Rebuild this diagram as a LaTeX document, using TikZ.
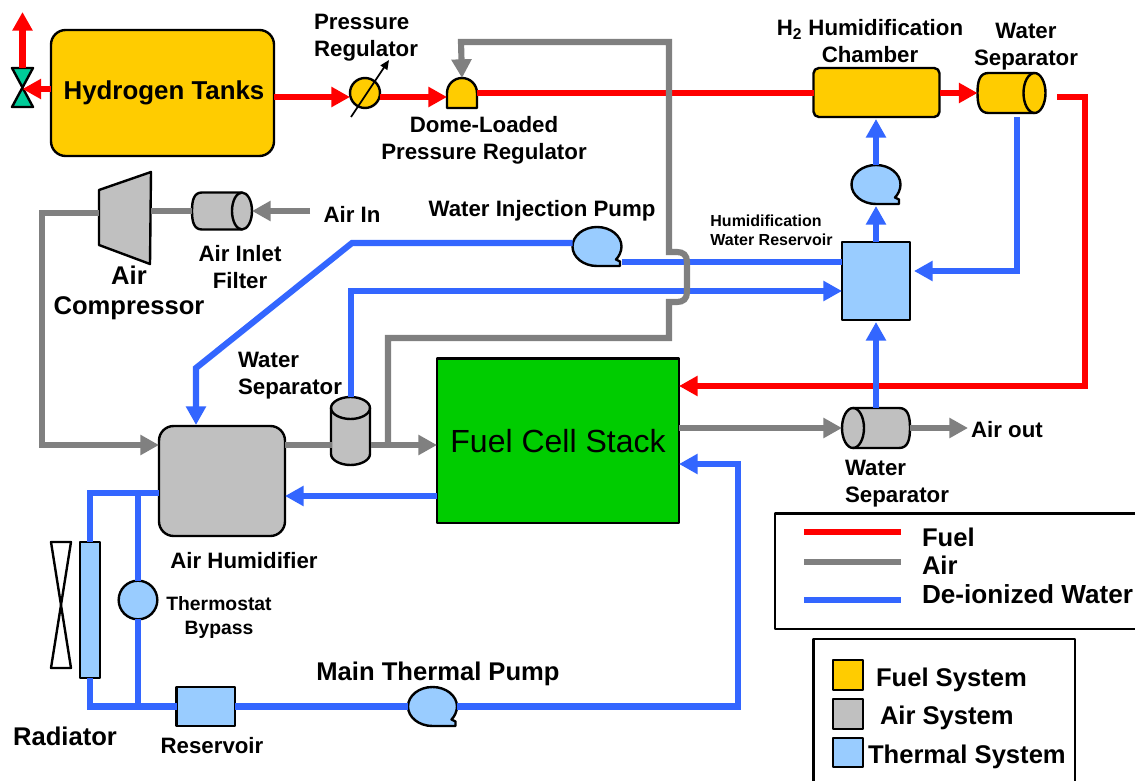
\documentclass[tikz,border=0pt]{standalone}
\usepackage{fontspec}
\setmainfont{Liberation Sans}
\usetikzlibrary{arrows.meta,calc}
\definecolor{fuelc}{HTML}{FF0000}
\definecolor{airc}{HTML}{808080}
\definecolor{waterc}{HTML}{3366FF}
\definecolor{fuelsys}{HTML}{FFCC00}
\definecolor{airsys}{HTML}{C0C0C0}
\definecolor{thermsys}{HTML}{99CCFF}
\definecolor{stackc}{HTML}{00CC00}
\definecolor{valvec}{HTML}{00CC99}
\tikzset{
  x=0.75pt,y=-0.75pt,
  outl/.style={draw=black,line width=1.8pt,line join=round},
  anode/.style={outl,inner sep=0pt,outer sep=0pt},
  fuelline/.style={draw=fuelc,line width=4.6pt},
  airline/.style={draw=airc,line width=4.6pt},
  waterline/.style={draw=waterc,line width=4.6pt},
  headed/.style={-{Triangle[length=14pt,width=14.5pt]}},
  ghost/.style={inner sep=0pt,outer sep=0pt},
  tl/.style={inner sep=0pt,outer sep=0pt,align=center,font=\bfseries\fontsize{16.7pt}{20.2pt}\selectfont},
  tlb/.style={tl,font=\bfseries\fontsize{19.2pt}{23pt}\selectfont},
  tls/.style={tl,font=\bfseries\fontsize{14.5pt}{18pt}\selectfont},
  tlx/.style={tl,font=\bfseries\fontsize{12pt}{14.2pt}\selectfont},
}
% box by corners
\newcommand\bx[6]{\node[anode,#2,minimum width={(#5-#3)*0.75pt},minimum height={(#6-#4)*0.75pt}] (#1) at ({(#3+#5)/2},{(#4+#6)/2}) {};}
% pump
\newcommand\pumpsym[3]{\node[ghost,minimum width=36.75pt,minimum height=29.25pt] (#1) at (#2,#3) {};
 \begin{scope}[shift={(#1.center)}]
 \draw[outl,fill=thermsys] (0,19.5) .. controls (-13.5,19.5) and (-24.5,10.8) .. (-24.5,0) .. controls (-24.5,-10.8) and (-13.5,-19.5) .. (0,-19.5) .. controls (13.5,-19.5) and (24.5,-10.8) .. (24.5,0) .. controls (24.5,5) and (22,10) .. (19,13) -- (23,15) -- (23,19.5) -- cycle;
 \end{scope}}
% horizontal cylinder: name cx cy halfw halfh rx colour xscale
\newcommand\cylh[8]{\node[ghost,minimum width={2*#4*0.75pt},minimum height={2*#5*0.75pt}] (#1) at (#2,#3) {};
 \begin{scope}[shift={(#1.center)},xscale=#8]
 \draw[outl,fill=#7] ({#4-#6},{-#5}) -- ({-#4+#6},{-#5}) .. controls ({-#4+0.2*#6},{-#5}) and ({-#4},{-0.6*#5}) .. ({-#4},0) .. controls ({-#4},{0.6*#5}) and ({-#4+0.2*#6},{#5}) .. ({-#4+#6},{#5}) -- ({#4-#6},{#5}) .. controls ({#4-0.45*#6},{#5}) and ({#4},{0.55*#5}) .. ({#4},0) .. controls ({#4},{-0.55*#5}) and ({#4-0.45*#6},{-#5}) .. ({#4-#6},{-#5}) -- cycle;
 \draw[outl] ({#4-#6},{-#5}) .. controls ({#4-1.55*#6},{-#5}) and ({#4-2*#6},{-0.55*#5}) .. ({#4-2*#6},0) .. controls ({#4-2*#6},{0.55*#5}) and ({#4-1.55*#6},{#5}) .. ({#4-#6},{#5});
 \end{scope}}
\begin{document}
\begin{tikzpicture}
\useasboundingbox (0,0) rectangle (1135,781);
\clip (0,0) rectangle (1135,781);
% --- components
\bx{tanks}{fill=fuelsys,rounded corners=11pt}{51}{30}{274}{156}
\bx{chamber}{fill=fuelsys,rounded corners=4pt}{813.5}{68}{939.5}{117}
\bx{hum}{fill=airsys,rounded corners=11pt}{159}{426}{285}{536}
\bx{stack}{fill=stackc}{437}{358.5}{679}{523}
\bx{hres}{fill=thermsys}{842}{242}{910}{320}
\bx{rad}{fill=thermsys}{80}{542}{100}{678}
\bx{res}{fill=thermsys}{176.5}{687}{235}{726}
% valve
\node[ghost,minimum width=15.75pt,minimum height=29.25pt] (valve) at (22.5,87.5) {};
\draw[outl,fill=valvec] (valve.north west) -- (valve.north east) -- (valve.center) -- cycle;
\draw[outl,fill=valvec] (valve.south west) -- (valve.south east) -- (valve.center) -- cycle;
% fan
\node[ghost,minimum width=15pt,minimum height=94.5pt] (fan) at (61,605) {};
\draw[outl,fill=white] (fan.north west) -- (fan.north east) -- (fan.center) -- cycle;
\draw[outl,fill=white] (fan.south west) -- (fan.south east) -- (fan.center) -- cycle;
% regulator
\node[anode,circle,fill=fuelsys,minimum size=22.5pt] (reg) at (365,93) {};
% dome
\node[ghost,minimum width=22.5pt,minimum height=22.5pt] (dome) at (462,93) {};
\draw[outl,fill=fuelsys] (dome.south west) -- (dome.west) .. controls ($(dome.west)+(0,-8.3)$) and ($(dome.north)+(-8.3,0)$) .. (dome.north) .. controls ($(dome.north)+(8.3,0)$) and ($(dome.east)+(0,-8.3)$) .. (dome.east) -- (dome.south east) -- cycle;
% compressor
\node[ghost,minimum width=39pt,minimum height=69pt] (comp) at (125,218) {};
\draw[outl,fill=airsys] (99,190) -- (151,172) -- (150,264) -- (99,245) -- cycle;
% cylinders
\cylh{filt}{222}{211}{30}{18.5}{10}{airsys}{1}
\cylh{sepa}{1011.5}{93}{34}{20}{11}{fuelsys}{1}
\cylh{sepb}{876}{428}{34}{20}{11}{airsys}{-1}
% vertical cylinder
\node[ghost,minimum width=29.25pt,minimum height=51pt] (sepc) at (351,431) {};
\draw[outl,fill=airsys] (331,408) -- (331,454) .. controls (331,460) and (340,465) .. (350.5,465) .. controls (361,465) and (370,460) .. (370,454) -- (370,408) .. controls (370,402) and (361,397) .. (350.5,397) .. controls (340,397) and (331,402) .. (331,408) -- cycle;
\draw[outl] (331,408) .. controls (331,414) and (340,419) .. (350.5,419) .. controls (361,419) and (370,414) .. (370,408);
% pumps
\pumpsym{pinj}{597}{246.5}
\pumpsym{phum}{876}{184.5}
\pumpsym{pmain}{432.5}{706.5}
\node[anode,circle,fill=thermsys,minimum size=29pt] (thermo) at (138,600) {};
% --- free ends
\coordinate (airinS) at (310,211);
\coordinate (sepaR) at (1057,97);
\coordinate (sepaB) at (1017,117);
\coordinate (hresR) at (914,271);
\coordinate (hresT) at (876,206);
\coordinate (chamB) at (876,119);
\coordinate (hresB) at (876,322);
\coordinate (airoutE) at (968,428);
\coordinate (regA) at (351,117);
\coordinate (regB) at (389,60);
\coordinate (ventT) at (22.5,12);
% --- fuel
\draw[fuelline,headed] (valve.north) -- (ventT);
\draw[fuelline,headed] (tanks.west |- 0,89) -- (valve.center |- 0,89);
\draw[fuelline,headed] (tanks.east |- 0,97) -- (reg.west |- 0,97);
\draw[fuelline,headed] (reg.east |- 0,97) -- (dome.west |- 0,97);
\draw[fuelline] (dome.east |- 0,93) -- (chamber.west |- 0,93);
\draw[fuelline,headed] (chamber.east |- 0,93) -- (sepa.west |- 0,93);
\draw[fuelline,headed] (sepaR) -- (1085,97) -- (1085,386) -- (stack.east |- 0,386);
% --- water
\draw[waterline,headed] (pinj.west |- 0,243) -- (352,243) -- (196,368) -- (196,425);
\draw[waterline] (pinj.east |- 0,262) -- (hres.west |- 0,262);
\draw[waterline,headed] (sepc.north) -- (351,291) -- (hres.west |- 0,291);
\draw[waterline,headed] (sepaB) -- (1017,271) -- (hresR);
\draw[waterline,headed] (hres.north) -- (hresT);
\draw[waterline,headed] (phum.north) -- (chamB);
\draw[waterline,headed] (sepb.north) -- (hresB);
\draw[waterline,headed] (stack.west |- 0,496) -- (hum.east |- 0,496);
\draw[waterline] (hum.west |- 0,493) -- (90,493) -- (rad.north);
\draw[waterline] (138,493) -- (thermo.north);
\draw[waterline] (thermo.south) -- (138,706.5);
\draw[waterline] (rad.south) -- (90,706.5) -- (res.west);
\draw[waterline] (res.east) -- (pmain.west);
\draw[waterline,headed] (pmain.east) -- (738,706.5) -- (738,464) -- (stack.east |- 0,464);
% --- air
\draw[airline,headed] (airinS) -- (filt.east);
\draw[airline] (filt.west) -- (151,211);
\draw[airline,headed] (99,213) -- (42,213) -- (42,445) -- (hum.west |- 0,445);
\draw[airline] (hum.east |- 0,445) -- (sepc.west |- 0,445);
\draw[airline,headed] (sepc.east |- 0,445) -- (stack.west |- 0,445);
\draw[airline,headed] (stack.east |- 0,428) -- (sepb.west);
\draw[airline,headed] (sepb.east) -- (airoutE);
\draw[airline,headed] (388,445) -- (388,338) -- (669,338) -- (669,302) -- (677,302) .. controls (683,302) and (687,299) .. (687,292) -- (687,262) .. controls (687,255) and (683,252) .. (677,252) -- (669,252) -- (669,42) -- (461,42) -- (dome.north);
% regulator stroke
\draw[black,line width=1.3pt,-{Triangle[length=7pt,width=6pt]}] (regA) -- (regB);
% --- labels
\node[tlb,font=\bfseries\fontsize{19.4pt}{23pt}\selectfont] (tHyd) at (164,92.5) {Hydrogen Tanks};
\node[tl,align=left] (tPR) at (366,38) {Pressure\\Regulator};
\node[tl] (tDome) at (484,140.5) {Dome-Loaded\\Pressure Regulator};
\node[tl] (tH2) at (870,41.5) {H\textsubscript{2} Humidification\\Chamber};
\node[tl] (tSepA) at (1026,47) {Water\\Separator};
\node[tlb] (tComp) at (129,293) {Air\\Compressor};
\node[tl] (tFilt) at (240,267.5) {Air Inlet\\Filter};
\node[tl] (tAirIn) at (352,214) {Air In};
\node[tl] (tInj) at (542,211) {Water Injection Pump};
\node[tlx,align=left] (tHR) at (771.5,230) {Humidification\\Water Reservoir};
\node[tl,align=left] (tSepC) at (290,376) {Water\\Separator};
\node[ghost,font=\fontsize{24pt}{28pt}\selectfont] (tStack) at (558,441) {Fuel Cell Stack};
\node[tl,align=left] (tSepB) at (897,484) {Water\\Separator};
\node[tl] (tOut) at (1007,430) {Air out};
\node[tl] (tAH) at (244,561) {Air Humidifier};
\node[tls] (tTB) at (219,617.5) {Thermostat\\Bypass};
\node[tlb] (tRad) at (65,736) {Radiator};
\node[tl] (tRes) at (212,746) {Reservoir};
\node[tlb] (tMain) at (438,674) {Main Thermal Pump};
% --- line legend
\bx{keyA}{fill=white}{775}{513.5}{1145}{629}
\coordinate (kfa) at (804,532); \coordinate (kfb) at (901,532);
\coordinate (kaa) at (804,562); \coordinate (kab) at (901,562);
\coordinate (kwa) at (804,600); \coordinate (kwb) at (901,600);
\draw[draw=fuelc,line width=5.2pt] (kfa) -- (kfb);
\draw[draw=airc,line width=5.2pt] (kaa) -- (kab);
\draw[draw=waterc,line width=5.2pt] (kwa) -- (kwb);
\node[tlb,anchor=west] (kFuel) at (922,537) {Fuel};
\node[tlb,anchor=west] (kAir) at (922,565) {Air};
\node[tlb,anchor=west,font=\bfseries\fontsize{19.6pt}{23pt}\selectfont] (kWater) at (922,594) {De-ionized Water};
% --- system legend
\bx{keyB}{fill=white}{813.5}{639}{1075}{800}
\bx{sF}{fill=fuelsys}{833}{660}{863}{690}
\bx{sA}{fill=airsys}{833}{699}{863}{729}
\bx{sT}{fill=thermsys}{833}{738}{863}{767}
\node[tlb,anchor=west] (kSF) at (876,680) {Fuel System};
\node[tlb,anchor=west] (kSA) at (880,718) {Air System};
\node[tlb,anchor=west] (kST) at (868,757) {Thermal System};
\end{tikzpicture}
\end{document}
